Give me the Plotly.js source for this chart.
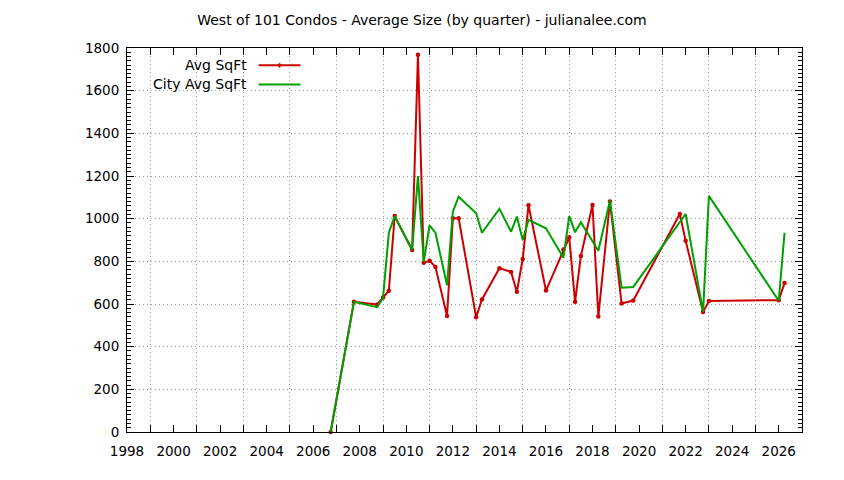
<!DOCTYPE html>
<html>
<head>
<meta charset="utf-8">
<script src="https://cdn.plot.ly/plotly-3.0.1.min.js"></script>
<style>
html,body{margin:0;padding:0;background:#fff;}
#chart{width:844px;height:480px;}
</style>
</head>
<body>
<div id="chart"></div>
<script>
// Avg SqFt (red) by quarter
var avgX = [2006.75, 2007.75, 2008.75, 2009.0, 2009.25, 2009.5, 2010.25, 2010.5, 2010.75, 2011.0,
            2011.25, 2011.75, 2012.0, 2012.25, 2013.0, 2013.25, 2014.0, 2014.5, 2014.75, 2015.0,
            2015.25, 2016.0, 2016.75, 2017.0, 2017.25, 2017.5, 2018.0, 2018.25, 2018.75, 2019.25,
            2019.75, 2021.75, 2022.0, 2022.75, 2023.0, 2026.0, 2026.25];
var avgY = [0, 610, 598, 630, 662, 1012, 853, 1768, 793, 803,
            774, 544, 1002, 1002, 538, 621, 768, 750, 657, 811,
            1063, 663, 856, 913, 610, 825, 1064, 541, 1081, 602,
            616, 1022, 897, 562, 614, 618, 698];

// City Avg SqFt (green) by quarter
var cityX = [2006.75, 2007.75, 2008.75, 2009.0, 2009.25, 2009.5, 2010.25, 2010.5, 2010.75, 2011.0,
             2011.25, 2011.75, 2012.0, 2012.25, 2013.0, 2013.25, 2014.0, 2014.5, 2014.75, 2015.0,
             2015.25, 2016.0, 2016.75, 2017.0, 2017.25, 2017.5, 2018.25, 2018.75, 2019.25, 2019.75,
             2022.0, 2022.75, 2023.0, 2026.0, 2026.25];
var cityY = [0, 610, 585, 630, 934, 1012, 853, 1200, 797, 969,
             934, 688, 1033, 1103, 1025, 934, 1046, 939, 1010, 900,
             994, 955, 817, 1013, 936, 983, 850, 1085, 676, 680,
             1022, 563, 1107, 615, 934];

var seriesNames = ['Avg SqFt', 'City Avg SqFt'];
var xTickVals = [1998, 2000, 2002, 2004, 2006, 2008, 2010, 2012, 2014, 2016, 2018, 2020, 2022, 2024, 2026];
var yTickVals = [0, 200, 400, 600, 800, 1000, 1200, 1400, 1600, 1800];

var RED = '#cc0000', GREEN = '#00a000';
var FONT = 'DejaVu Sans, Verdana, sans-serif';
var GRID = '#999999';

var traces = [
  {x: avgX, y: avgY, name: seriesNames[0], type: 'scatter', mode: 'lines+markers',
   line: {color: RED, width: 2}, marker: {color: RED, size: 4.5, symbol: 'circle'},
   showlegend: false, cliponaxis: false},
  {x: cityX, y: cityY, name: seriesNames[1], type: 'scatter', mode: 'lines',
   line: {color: GREEN, width: 2}, showlegend: false, cliponaxis: false}
];

var legendTop = 0.955, legendStep = 0.05;
var annotations = [], shapes = [];
[RED, GREEN].forEach(function(c, i){
  var yy = legendTop - i * legendStep;
  annotations.push({xref: 'paper', yref: 'paper', x: 0.18, y: yy, xanchor: 'right', yanchor: 'middle',
    text: seriesNames[i], showarrow: false, font: {family: FONT, size: 14, color: '#000'}});
  shapes.push({type: 'line', xref: 'paper', yref: 'paper', x0: 0.195, x1: 0.257, y0: yy, y1: yy,
    line: {color: c, width: 2}});
});
shapes.push({type: 'circle', xref: 'paper', yref: 'paper', x0: 0.2245, x1: 0.2275,
  y0: legendTop - 0.005, y1: legendTop + 0.005, fillcolor: RED, line: {color: RED, width: 1}});

var layout = {
  width: 844, height: 480,
  margin: {l: 127, r: 42, t: 48, b: 48, pad: 0},
  paper_bgcolor: '#fff', plot_bgcolor: '#fff',
  font: {family: FONT, size: 13, color: '#000'},
  title: {text: 'West of 101 Condos - Average Size (by quarter) - julianalee.com',
          x: 0.5, xanchor: 'center', y: 0.958, yanchor: 'middle',
          font: {family: FONT, size: 14, color: '#000'}},
  xaxis: {range: [1998, 2027], tickmode: 'array', tickvals: xTickVals,
          ticks: 'inside', ticklen: 7, tickcolor: '#000', tickwidth: 1,
          showline: true, linecolor: '#000', linewidth: 1, mirror: 'ticks',
          showgrid: false, zeroline: false, fixedrange: true, ticklabelstandoff: 7,
          tickfont: {family: FONT, size: 13.5, color: '#000'},
          minor: {tick0: 1999, dtick: 2, ticks: 'inside', ticklen: 7, tickcolor: '#000', tickwidth: 1,
                  showgrid: true, gridcolor: GRID, griddash: '1px,3px', gridwidth: 1}},
  yaxis: {range: [0, 1800], tickmode: 'array', tickvals: yTickVals,
          ticks: 'inside', ticklen: 7, tickcolor: '#000', tickwidth: 1,
          showline: true, linecolor: '#000', linewidth: 1, mirror: 'ticks',
          showgrid: true, gridcolor: GRID, griddash: '1px,3px', gridwidth: 1,
          zeroline: false, fixedrange: true, ticklabelstandoff: 4,
          tickfont: {family: FONT, size: 13.5, color: '#000'},
          minor: {dtick: 20, ticks: 'inside', ticklen: 4, tickcolor: '#000', tickwidth: 1, showgrid: false}},
  annotations: annotations,
  shapes: shapes
};

Plotly.newPlot('chart', traces, layout, {displayModeBar: false, staticPlot: true});
</script>
</body>
</html>
